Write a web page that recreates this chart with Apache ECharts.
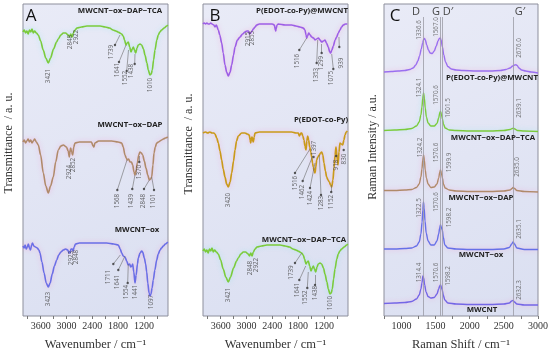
<!DOCTYPE html>
<html><head><meta charset="utf-8">
<script src="https://cdn.jsdelivr.net/npm/echarts@6/dist/echarts.min.js"></script>
<style>html,body{margin:0;padding:0;background:#fff}#c{width:550px;height:349px}</style>
</head><body><div id="c"></div><script>
// ---------- FTIR spectra: [wavenumber, transmittance (a.u.)] ----------
const ftirTCA = [[4010,284],[3980,286],[3950,283],[3920,285],[3890,282],[3860,286],[3830,284],[3800,287],[3770,283],[3740,285],[3700,283],[3654,281],[3600,275],[3540,266],[3480,258],[3422,253],[3370,258],[3300,267],[3230,274],[3190,277],[3130,281],[3073,283],[3020,283],[2960,281],[2930,279],[2900,282],[2870,279],[2840,283],[2800,286],[2755,288],[2650,289],[2523,290],[2400,290],[2220,290],[2100,289],[2000,288],[1918,286],[1850,285],[1800,284],[1756,283],[1720,282],[1680,280],[1650,276],[1616,271],[1590,273],[1563,274],[1530,269],[1500,264],[1470,267],[1446,269],[1420,266],[1391,263],[1360,268],[1330,271],[1290,272],[1252,271],[1210,267],[1175,261],[1130,253],[1098,246],[1059,241],[1030,242],[1005,246],[975,256],[942,266],[900,276],[866,281],[830,284],[787,286],[730,288],[670,290],[645,291]];
const ftirDAP = [[4010,174],[3980,176],[3950,173],[3920,175],[3890,177],[3860,174],[3830,176],[3800,173],[3770,175],[3740,177],[3700,174],[3654,171],[3600,161],[3538,143],[3480,130],[3422,123],[3370,130],[3306,139],[3250,154],[3190,166],[3130,170],[3073,171],[3000,169],[2960,165],[2934,159],[2915,166],[2901,168],[2880,164],[2855,161],[2830,169],[2802,173],[2700,174],[2550,174],[2420,174],[2380,170],[2360,169],[2340,173],[2250,175],[2100,175],[1950,175],[1800,174],[1716,173],[1680,169],[1640,161],[1610,158],[1586,156],[1555,157],[1523,154],[1490,154],[1461,151],[1430,144],[1407,141],[1380,146],[1353,153],[1320,161],[1291,164],[1260,163],[1228,161],[1190,155],[1152,148],[1110,141],[1074,136],[1045,137],[1019,139],[990,151],[965,163],[935,169],[903,173],[860,174],[826,175],[790,176],[749,177],[700,178],[645,179]];
const ftirOx = [[4010,70],[3985,68],[3960,71],[3935,67],[3910,69],[3885,72],[3860,68],[3835,66],[3810,71],[3790,73],[3760,70],[3720,69],[3680,68],[3640,66],[3615,63],[3570,54],[3520,43],[3470,33],[3422,29],[3380,33],[3330,42],[3280,50],[3227,56],[3180,61],[3130,64],[3073,66],[3020,67],[2970,66],[2940,63],[2918,63],[2895,67],[2864,67],[2848,65],[2820,69],[2790,72],[2700,73],[2530,73],[2300,73],[2065,73],[1900,72],[1795,71],[1750,67],[1716,63],[1680,60],[1640,59],[1600,55],[1563,51],[1530,52],[1507,49],[1480,50],[1461,52],[1435,44],[1407,33],[1380,41],[1350,52],[1330,58],[1290,63],[1250,65],[1228,64],[1190,58],[1160,52],[1135,44],[1110,33],[1080,23],[1059,20],[1035,22],[1010,28],[982,36],[945,46],[903,56],[866,62],[826,66],[790,68],[749,70],[700,72],[645,74]];
const ftirPolyCNT = [[4010,292],[3980,293],[3950,292],[3920,293],[3890,292],[3860,292],[3830,293],[3800,292],[3760,291],[3731,289],[3700,291],[3654,286],[3620,281],[3576,273],[3540,263],[3499,251],[3460,244],[3422,240],[3380,244],[3343,251],[3300,261],[3266,269],[3210,276],[3150,279],[3090,282],[3034,284],[2990,285],[2957,285],[2930,282],[2901,283],[2870,285],[2841,287],[2800,289],[2762,291],[2700,292],[2550,292],[2400,292],[2350,291],[2330,286],[2320,285],[2310,287],[2290,291],[2260,292],[2100,291],[1950,291],[1850,290],[1756,289],[1680,288],[1640,286],[1615,281],[1600,278],[1580,280],[1553,283],[1520,281],[1484,279],[1440,278],[1407,276],[1370,277],[1330,278],[1290,276],[1252,274],[1210,275],[1175,276],[1140,273],[1098,269],[1065,264],[1043,263],[1015,266],[981,270],[940,276],[903,279],[866,283],[826,286],[790,289],[749,291],[700,292],[656,292]];
const ftirPoly = [[4010,183],[3950,184],[3900,183],[3850,184],[3800,183],[3760,183],[3731,182],[3690,178],[3654,173],[3615,165],[3576,156],[3540,147],[3499,139],[3460,132],[3422,129],[3380,134],[3343,143],[3300,155],[3266,166],[3230,175],[3190,180],[3111,183],[3034,183],[2980,182],[2934,181],[2915,176],[2901,173],[2885,178],[2871,179],[2855,176],[2841,174],[2820,179],[2802,183],[2700,184],[2500,184],[2300,184],[2100,184],[1950,184],[1850,183],[1795,183],[1770,180],[1756,181],[1735,183],[1716,183],[1690,180],[1663,176],[1640,170],[1616,166],[1597,175],[1577,180],[1555,176],[1530,169],[1505,164],[1484,159],[1465,153],[1446,149],[1425,145],[1407,143],[1388,149],[1368,156],[1340,159],[1306,161],[1280,163],[1252,164],[1225,161],[1198,153],[1165,145],[1136,139],[1105,136],[1074,134],[1045,131],[1019,129],[990,136],[965,148],[940,161],[919,169],[895,159],[872,151],[850,164],[826,173],[795,172],[764,171],[735,176],[710,181],[680,184],[657,185]];
const tcaOffsetB = -219;

// ---------- Raman spectra: [Raman shift, intensity (a.u.)] ----------
const ramanPolyCNT = [[744,244],[850,244.5],[950,245],[1050,245.5],[1120,246.5],[1170,248],[1210,251],[1240,255],[1265,260],[1290,267],[1310,273],[1325,276.5],[1337,277.5],[1350,276],[1370,271],[1395,266],[1420,263],[1450,262.5],[1480,265],[1510,270],[1535,275],[1555,277.5],[1567,278],[1580,276],[1600,269],[1620,261],[1645,254],[1680,249.5],[1730,247],[1800,246],[1900,245.5],[2100,245],[2300,245],[2450,245.5],[2530,246.5],[2590,248],[2630,250],[2660,251],[2676,251.2],[2695,250.5],[2720,248],[2760,246],[2820,245],[2900,244],[3000,243]];
const ramanTCA = [[744,185.5],[900,186],[1050,186.5],[1150,187.5],[1220,190],[1260,194],[1285,201],[1300,209],[1312,218],[1324,223],[1335,218],[1348,208],[1365,199],[1390,193],[1430,190],[1480,190],[1520,192.5],[1545,198],[1562,203.5],[1571,204.5],[1585,202],[1600,197],[1615,192],[1640,188],[1700,186],[1800,185.5],[2000,185],[2300,185],[2500,185.5],[2590,186.5],[2625,187.5],[2640,187.7],[2660,187],[2700,185.5],[2800,185],[3000,184.5]];
const ramanDAP = [[744,125.5],[900,125.5],[1050,126],[1150,126.5],[1220,128.5],[1260,132],[1285,139],[1300,147],[1312,156],[1324,161],[1335,156],[1348,146],[1365,138],[1390,132],[1430,128.5],[1480,129],[1520,132],[1545,138],[1562,144],[1571,146],[1585,143],[1600,138],[1615,132],[1640,128],[1700,126],[1800,125],[2000,124.5],[2300,124.5],[2500,125],[2590,126],[2620,127.5],[2635,128.5],[2655,127.5],[2690,125.5],[2800,124.5],[3000,124]];
const ramanOx = [[744,67],[900,67],[1050,67.5],[1150,68],[1220,70],[1260,74],[1285,82],[1302,94],[1313,106],[1322,114],[1332,108],[1345,95],[1362,83],[1390,75],[1430,71],[1480,71],[1520,75],[1545,82],[1560,88],[1570,91],[1583,89],[1598,86],[1612,79],[1635,71],[1680,68],[1800,67],[2000,66.5],[2300,66.5],[2500,67],[2580,68.5],[2615,72],[2635,74],[2655,72],[2690,68],[2800,66.5],[3000,66.5]];
const ramanCNT = [[744,12.5],[900,13],[1050,13.5],[1150,14.5],[1220,17],[1260,21],[1285,27],[1300,33],[1314,40],[1325,38],[1340,31],[1360,24],[1390,19.5],[1430,18],[1480,18.5],[1520,22],[1545,27],[1560,30],[1570.6,31],[1585,29],[1598,26],[1612,21],[1635,16],[1680,13],[1800,12],[2000,11.5],[2300,11.5],[2500,12],[2580,13],[2615,15],[2632,15.5],[2655,14],[2690,12],[2800,11],[3000,11]];
const ramanBands = [1322, 1570.6, 1600, 2636];

// ---------- tick labels ----------
const ftirTickLabels = [3600, 3000, 2400, 1800, 1200];
const ftirMinorTicks = [3900, 3600, 3300, 3000, 2700, 2400, 2100, 1800, 1500, 1200, 900];
const ramanTickLabels = [1000, 1500, 2000, 2500, 3000];
const ramanMinorTicks = [750, 1000, 1250, 1500, 1750, 2000, 2250, 2500, 2750, 3000];

// ---------- peak annotations: [text, x, y] ; leaders: [x1,y1,x2,y2] ----------
const annA = [['3421',3422,240],['2848',2918,274],['2922',2778,279],['1739',1949,264],['1641',1832,246],['1552',1640,238],['1438',1484,245],['1010',1059,231],
  ['2924',2934,144],['2852',2841,151],['1568',1818,115],['1439',1484,115],['1370',1307,144],['2848',1214,115],['1101',982,115],
  ['3423',3422,17],['2923',2901,58],['2848',2762,59],['1711',2027,39],['1641',1818,34],['1554',1600,24],['1441',1407,24],['1097',1019,14]];
const leadA = [[1872,271,1756,281],[1779,254,1616,271],[1600,245,1558,266],[1414,252,1407,262],
  [1818,126,1593,156],[1470,127,1407,141],[1307,154,1300,160],[1198,127,1074,136],[965,126,1019,139],
  [1911,52,1749,61],[1795,46,1640,60],[1577,33,1563,52]];
const annB = [['2915',2957,277],['2855',2855,278],['1516',1832,255],['1353',1384,241],['1299',1252,253],['1075',1019,238],['939',800,253],
  ['3420',3422,116],['1397',1420,168],['1516',1872,133],['1462',1693,124],['1424',1523,118],['1283',1252,113],['1152',1019,114],['918',903,151],['830',725,157],
  ['3421',3422,21],['2848',2918,48],['2922',2778,51],['1739',1949,43.5],['1641',1832,26],['1552',1640,18.5],['1438',1407,23],['1010',1059,13]];
const leadB = [[1772,266,1600,278],[1368,253,1344,276],[1252,263,1252,272],[981,247,1019,262],[842,269,850,279],
  [1440,159,1440,159],[1872,143,1523,167],[1693,135,1461,160],[1523,128,1407,153],[1267,121,1306,161],[1030,124,1040,131],[915,160,915,160],[740,166,740,166],
  [1872,53,1716,63],[1772,36,1623,50],[1586,28,1563,44],[1407,31,1407,41]];
const annC = [['1336.6',1262,286],['1567.0',1506,289],['2676.0',2728,268],
  ['1324.1',1262,228.5],['1570.6',1506,221],['1601.5',1687,208],['2639.1',2728,208],
  ['1324.2',1272,168.5],['1570.6',1516,163.5],['1599.9',1696,153.5],['2635.0',2689,149],
  ['1322.5',1262,108],['1570.6',1506,114],['1598.2',1702,98.5],['2635.1',2728,87],
  ['1314.4',1262,43.5],['1570.6',1506,43.5],['1598.2',1687,40],['2632.3',2728,26]];

// ---------- styling ----------
const serif = '"Liberation Serif","DejaVu Serif",serif';
const sans = '"Open Sans","Liberation Sans",sans-serif';
const bg = {type:'linear',x:0,y:0,x2:1,y2:1,colorStops:[{offset:0,color:'#e9ebf7'},{offset:0.5,color:'#e2e5f4'},{offset:1,color:'#dadff1'}]};
const grids = [
  {left:23, top:4, width:145, height:312},
  {left:203, top:4, width:145, height:312},
  {left:384, top:4, width:154, height:312}
].map(g => Object.assign({show:true, borderColor:'#8d8f9c', borderWidth:1, backgroundColor:bg, containLabel:false, outerBoundsMode:'none'}, g));

function ftirX(i){
  return {gridIndex:i, type:'value', inverse:true, min:640, max:4010,
    axisLine:{show:false}, splitLine:{show:false},
    axisTick:{show:true, customValues:ftirMinorTicks, length:3, lineStyle:{color:'#777'}},
    axisLabel:{customValues:ftirTickLabels, formatter:v => String(v), color:'#333', fontFamily:serif, fontSize:10, margin:5},
    name:'Wavenumber / cm⁻¹', nameLocation:'middle', nameGap:22,
    nameTextStyle:{fontFamily:serif, fontSize:12.5, color:'#333'}};
}
const xAxes = [ftirX(0), ftirX(1), {gridIndex:2, type:'value', min:744, max:3000,
    axisLine:{show:false}, splitLine:{show:false},
    axisTick:{show:true, customValues:ramanMinorTicks, length:3, lineStyle:{color:'#777'}},
    axisLabel:{customValues:ramanTickLabels, formatter:v => String(v), color:'#333', fontFamily:serif, fontSize:10, margin:5},
    name:'Raman Shift / cm⁻¹', nameLocation:'middle', nameGap:22,
    nameTextStyle:{fontFamily:serif, fontSize:12.5, color:'#333'}}];
const yAxes = [0,1,2].map(i => ({gridIndex:i, type:'value', min:0, max:312,
  axisLine:{show:false}, axisTick:{show:false}, axisLabel:{show:false}, splitLine:{show:false}}));

function spec(data, g, color, width, glow){
  return {type:'line', xAxisIndex:g, yAxisIndex:g, data:data, showSymbol:false, smooth:0.3, smoothMonotone:'x',
    silent:true, z:3,
    lineStyle:{color:color, width:width, shadowColor:glow||'rgba(255,110,190,0.35)', shadowBlur:5}};
}
function annSeries(list, g, size, color){
  return {type:'scatter', xAxisIndex:g, yAxisIndex:g, symbolSize:1, itemStyle:{color:'rgba(0,0,0,0)'}, silent:true, z:5,
    data:list.map(a => ({value:[a[1], a[2]], name:a[0]})),
    label:{show:true, position:'inside', rotate:90, formatter:p => p.name, fontFamily:sans, fontSize:size, color:color}};
}
function leadSeries(list, g){
  return [{type:'lines', coordinateSystem:'cartesian2d', xAxisIndex:g, yAxisIndex:g, silent:true, z:4,
    lineStyle:{color:'#6a6a6a', width:0.6, opacity:1},
    data:list.filter(l => l[0]!==l[2] || l[1]!==l[3]).map(l => ({coords:[[l[0],l[1]],[l[2],l[3]]]}))},
   {type:'scatter', xAxisIndex:g, yAxisIndex:g, symbolSize:2.4, silent:true, z:5, itemStyle:{color:'#333'},
    data:list.map(l => [l[0], l[1]])}];
}

const tcaB = ftirTCA.map(p => [p[0], p[1] + tcaOffsetB]);
const series = [
  spec(ftirTCA, 0, '#7bcb3b', 1.6, 'rgba(90,230,230,0.35)'),
  spec(ftirDAP, 0, '#b08a6a', 1.6),
  spec(ftirOx, 0, '#6a6ee6', 1.6),
  spec(ftirPolyCNT, 1, '#9d5ee6', 1.6),
  spec(ftirPoly, 1, '#c99a1a', 1.7),
  spec(tcaB, 1, '#7bcb3b', 1.6, 'rgba(90,230,230,0.35)'),
  spec(ramanPolyCNT, 2, '#9a6ff0', 1.4),
  spec(ramanTCA, 2, '#7bcb3b', 1.4, 'rgba(90,230,230,0.35)'),
  spec(ramanDAP, 2, '#b08a6a', 1.4),
  spec(ramanOx, 2, '#6670e8', 1.4),
  spec(ramanCNT, 2, '#7466e6', 1.4),
  annSeries(annA, 0, 6.3, '#444'),
  annSeries(annB, 1, 6.3, '#444'),
  annSeries(annC, 2, 6.3, '#555'),
  ...leadSeries(leadA, 0),
  ...leadSeries(leadB, 1)
];
series[6].markLine = {symbol:'none', silent:true, label:{show:false}, animation:false,
  lineStyle:{color:'#9a9aa4', width:0.8, type:'solid'},
  data: ramanBands.map(b => [{coord:[b, 0]}, {coord:[b, 299]}])};

function txt(x, y, s, o){
  return {type:'text', x:x, y:y, silent:true, z:10, rotation:(o && o.rot) || 0,
    style:Object.assign({text:s, align:'center', verticalAlign:'middle', fill:'#222', font:'bold 8px '+sans}, o && o.style)};
}
const titleFont = 'bold 7.8px ' + sans;
const graphic = [
  txt(31, 16, 'A', {style:{font:'17px '+sans, fill:'#111'}}),
  txt(215, 16, 'B', {style:{font:'17px '+sans, fill:'#111'}}),
  txt(395, 16, 'C', {style:{font:'17px '+sans, fill:'#111'}}),
  txt(416, 12, 'D', {style:{font:'11px '+sans, fill:'#444'}}),
  txt(436, 12, 'G', {style:{font:'11px '+sans, fill:'#444'}}),
  txt(448, 12, 'D′', {style:{font:'11px '+sans, fill:'#444'}}),
  txt(520, 12, 'G′', {style:{font:'11px '+sans, fill:'#444'}}),
  txt(120, 11, 'MWCNT−ox−DAP−TCA', {style:{font:titleFont}}),
  txt(130, 125, 'MWCNT−ox−DAP', {style:{font:titleFont}}),
  txt(137, 230, 'MWCNT−ox', {style:{font:titleFont}}),
  txt(302, 11, 'P(EDOT-co-Py)@MWCNT', {style:{font:titleFont}}),
  txt(321, 120, 'P(EDOT-co-Py)', {style:{font:titleFont}}),
  txt(304, 240, 'MWCNT−ox−DAP−TCA', {style:{font:titleFont}}),
  txt(492, 78, 'P(EDOT-co-Py)@MWCNT', {style:{font:titleFont}}),
  txt(493, 138, 'MWCNT−ox−DAP−TCA', {style:{font:titleFont}}),
  txt(481, 198, 'MWCNT−ox−DAP', {style:{font:titleFont}}),
  txt(481, 255, 'MWCNT−ox', {style:{font:titleFont}}),
  txt(482, 310, 'MWCNT', {style:{font:titleFont}}),
  txt(9, 143, 'Transmittance  / a. u.', {rot:Math.PI/2, style:{font:'12px '+serif, fill:'#333'}}),
  txt(189, 144, 'Transmittance  / a. u.', {rot:Math.PI/2, style:{font:'12px '+serif, fill:'#333'}}),
  txt(373, 147, 'Raman Intensity / a.u.', {rot:Math.PI/2, style:{font:'12px '+serif, fill:'#333'}})
];

const chart = echarts.init(document.getElementById('c'), null, {renderer:'canvas'});
chart.setOption({animation:false, backgroundColor:'#ffffff', grid:grids, xAxis:xAxes, yAxis:yAxes, series:series, graphic:graphic});
</script></body></html>
